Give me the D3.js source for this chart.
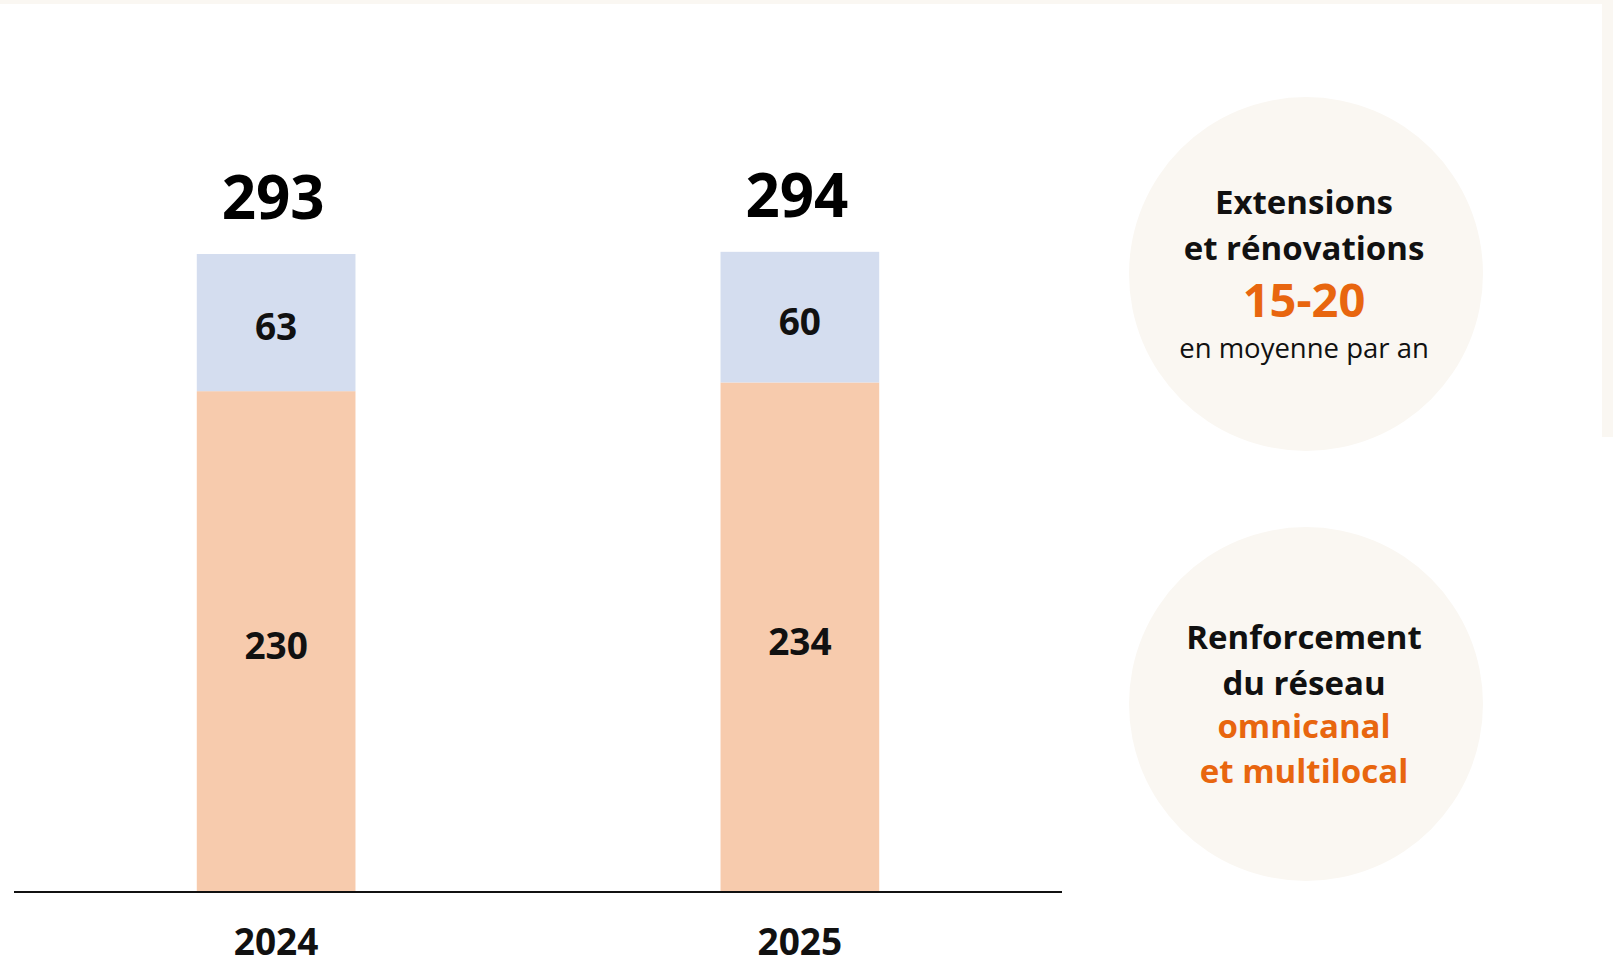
<!DOCTYPE html>
<html>
<head>
<meta charset="utf-8">
<script src="https://cdn.jsdelivr.net/npm/d3@7"></script>
<style>
	html, body { margin: 0; padding: 0; background: #ffffff; }
	svg { display: block; font-family: 'Open Sans', sans-serif; }
</style>
</head>
<body>
<div id="chart"></div>
<script>
var years = ['2024', '2025'];
var magasins = [230, 234];
var autres = [63, 60];
var totals = [293, 294];

var bulles = [
	[
		{ text: 'Extensions', size: 33, weight: 700, color: '#111111' },
		{ text: 'et rénovations', size: 33, weight: 700, color: '#111111' },
		{ text: '15-20', size: 47, weight: 700, color: '#e8660f' },
		{ text: 'en moyenne par an', size: 27.5, weight: 400, color: '#111111' }
	],
	[
		{ text: 'Renforcement', size: 33, weight: 700, color: '#111111' },
		{ text: 'du réseau', size: 33, weight: 700, color: '#111111' },
		{ text: 'omnicanal', size: 33, weight: 700, color: '#e8660f' },
		{ text: 'et multilocal', size: 33, weight: 700, color: '#e8660f' }
	]
];

(function () {
	'use strict';

	var width = 1613,
			height = 967;

	var svg = d3.select('#chart').append('svg')
							.attr('width', width)
							.attr('height', height);

	// bandeaux beiges du cadre
	svg.append('rect')
		 .attr('x', 0).attr('y', 0)
		 .attr('width', width).attr('height', 4)
		 .style('fill', '#faf7f2');

	svg.append('rect')
		 .attr('x', 1602).attr('y', 0)
		 .attr('width', width - 1602).attr('height', 437)
		 .style('fill', '#faf7f2');

	var x = d3.scaleBand()
						.domain(years)
						.range([14, 1062])
						.paddingInner(0.697)
						.paddingOuter(0.349);

	var y = d3.scaleLinear()
						.domain([0, 293])
						.range([892, 254]);

	var rows = years.map(function (yr, i) {
		return { year: yr, magasins: magasins[i], autres: autres[i], total: totals[i] };
	});

	var stack = d3.stack().keys(['magasins', 'autres'])(rows);
	var colors = { magasins: '#f7cbad', autres: '#d4ddef' };

	var g = svg.append('g').attr('class', 'bars');

	stack.forEach(function (layer) {
		g.selectAll('rect.' + layer.key)
		 .data(layer)
		 .enter().append('rect')
		 .attr('class', layer.key)
		 .attr('x', function (d) { return x(d.data.year); })
		 .attr('width', x.bandwidth())
		 .attr('y', function (d) { return y(d[1]); })
		 .attr('height', function (d) { return y(d[0]) - y(d[1]); })
		 .style('fill', colors[layer.key]);

		g.selectAll('text.' + layer.key)
		 .data(layer)
		 .enter().append('text')
		 .attr('class', layer.key)
		 .attr('x', function (d) { return x(d.data.year) + x.bandwidth() / 2; })
		 .attr('y', function (d) { return (y(d[0]) + y(d[1])) / 2 + 3; })
		 .attr('text-anchor', 'middle')
		 .attr('dominant-baseline', 'central')
		 .style('font-size', '37px')
		 .style('font-weight', 700)
		 .style('fill', '#111111')
		 .text(function (d) { return d[1] - d[0]; });
	});

	g.selectAll('text.total')
	 .data(rows)
	 .enter().append('text')
	 .attr('class', 'total')
	 .attr('x', function (d) { return x(d.year) + x.bandwidth() / 2 - 3; })
	 .attr('y', function (d) { return y(d.total) - 35; })
	 .attr('text-anchor', 'middle')
	 .style('font-size', '60px')
	 .style('font-weight', 700)
	 .style('fill', '#000000')
	 .text(function (d) { return d.total; });

	// axe horizontal
	svg.append('line')
		 .attr('x1', x.range()[0]).attr('x2', x.range()[1])
		 .attr('y1', y(0)).attr('y2', y(0))
		 .style('stroke', '#111111')
		 .style('stroke-width', 2);

	svg.selectAll('text.year')
		 .data(years)
		 .enter().append('text')
		 .attr('class', 'year')
		 .attr('x', function (d) { return x(d) + x.bandwidth() / 2; })
		 .attr('y', 955)
		 .attr('text-anchor', 'middle')
		 .style('font-size', '37px')
		 .style('font-weight', 700)
		 .style('fill', '#111111')
		 .text(function (d) { return d; });

	// bulles de droite
	var cx = 1306,
			cy = [274, 704],
			r = 177;
	var baselines = [[214, 260, 317, 358], [649, 695, 738, 783]];

	bulles.forEach(function (lines, i) {
		var b = svg.append('g').attr('class', 'bulle');

		b.append('circle')
		 .attr('cx', cx).attr('cy', cy[i]).attr('r', r)
		 .style('fill', '#faf7f2');

		b.selectAll('text')
		 .data(lines)
		 .enter().append('text')
		 .attr('x', cx - 2)
		 .attr('y', function (d, j) { return baselines[i][j]; })
		 .attr('text-anchor', 'middle')
		 .style('font-size', function (d) { return d.size + 'px'; })
		 .style('font-weight', function (d) { return d.weight; })
		 .style('fill', function (d) { return d.color; })
		 .text(function (d) { return d.text; });
	});
}());
</script>
</body>
</html>
